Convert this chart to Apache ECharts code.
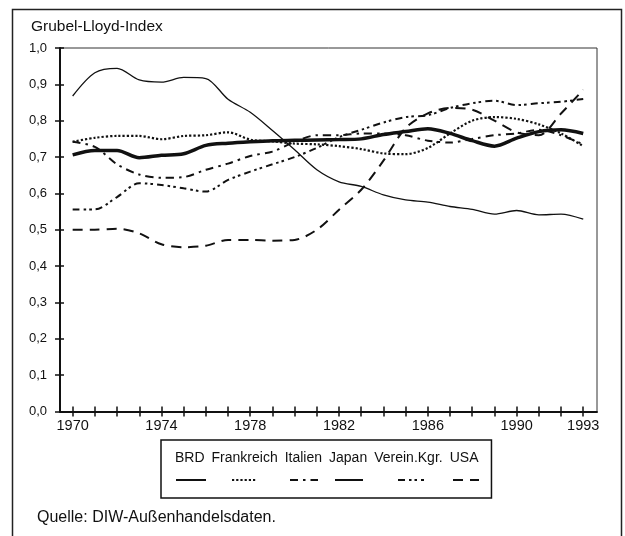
<!DOCTYPE html>
<html>
<head>
<meta charset="utf-8">
<script src="https://cdn.jsdelivr.net/npm/echarts@6/dist/echarts.min.js"></script>
<style>
    html, body { margin: 0; padding: 0; background: #fff; }
    #chart { width: 625px; height: 536px; }
</style>
</head>
<body>
<div id="chart"></div>
<script>
// Jahre
const years = [1970, 1971, 1972, 1973, 1974, 1975, 1976, 1977, 1978, 1979, 1980, 1981,
               1982, 1983, 1984, 1985, 1986, 1987, 1988, 1989, 1990, 1991, 1992, 1993];
const labelYears = [1970, 1974, 1978, 1982, 1986, 1990, 1993];

const brd        = [0.706, 0.718, 0.718, 0.698, 0.705, 0.709, 0.732, 0.738, 0.742, 0.745, 0.746, 0.747,
                    0.748, 0.750, 0.762, 0.770, 0.778, 0.765, 0.745, 0.730, 0.752, 0.770, 0.775, 0.765];
const frankreich = [0.742, 0.753, 0.758, 0.758, 0.749, 0.758, 0.760, 0.768, 0.748, 0.743, 0.737, 0.735,
                    0.730, 0.722, 0.710, 0.708, 0.725, 0.765, 0.800, 0.810, 0.805, 0.790, 0.765, 0.730];
const italien    = [0.742, 0.728, 0.680, 0.652, 0.643, 0.645, 0.665, 0.682, 0.703, 0.715, 0.742, 0.760,
                    0.760, 0.765, 0.765, 0.760, 0.745, 0.740, 0.750, 0.760, 0.765, 0.775, 0.760, 0.735];
const japan      = [0.868, 0.932, 0.944, 0.912, 0.906, 0.919, 0.916, 0.859, 0.823, 0.773, 0.720, 0.665,
                    0.632, 0.619, 0.596, 0.582, 0.576, 0.564, 0.556, 0.543, 0.553, 0.541, 0.543, 0.529];
const vereinKgr  = [0.556, 0.556, 0.590, 0.628, 0.623, 0.614, 0.605, 0.637, 0.660, 0.680, 0.700, 0.725,
                    0.755, 0.775, 0.795, 0.810, 0.815, 0.835, 0.848, 0.855, 0.843, 0.848, 0.852, 0.860];
const usa        = [0.500, 0.500, 0.503, 0.490, 0.460, 0.452, 0.456, 0.472, 0.472, 0.470, 0.472, 0.500,
                    0.555, 0.610, 0.690, 0.780, 0.820, 0.835, 0.830, 0.800, 0.768, 0.760, 0.820, 0.885];

const names = ['BRD', 'Frankreich', 'Italien', 'Japan', 'Verein.Kgr.', 'USA'];
const values = [brd, frankreich, italien, japan, vereinKgr, usa];
const lineStyles = [
    {width: 3.5, type: 'solid'},
    {width: 2.2, type: [2.2, 2]},
    {width: 2, type: [8, 5, 2.5, 5]},
    {width: 1.3, type: 'solid'},
    {width: 2, type: [7, 4, 2.5, 3, 2.5, 4]},
    {width: 2, type: [10, 7]}
];
// Legendensymbole: Mitte und Breite
const iconCenters = [190, 243, 303, 348, 410, 465];
const iconWidths = [30, 24, 28, 28, 26, 26];

let chart = echarts.init(document.getElementById('chart'));

let series = names.map((name, i) => ({
    name: name,
    type: 'line',
    symbol: 'none',
    smooth: 0.3,
    silent: true,
    color: '#111',
    lineStyle: Object.assign({color: '#111', cap: 'butt'}, lineStyles[i]),
    data: years.map((y, j) => [y, values[i][j]])
}));

let legends = [{
    data: names,
    icon: 'none',
    itemWidth: 0,
    itemHeight: 14,
    itemGap: 2,
    selectedMode: false,
    left: 161,
    top: 440,
    padding: [11, 13, 33, 9],
    borderColor: '#111',
    borderWidth: 1.5,
    textStyle: {fontFamily: 'Liberation Sans', fontSize: 14, color: '#111'}
}];
names.forEach((name, i) => {
    legends.push({
        data: [name],
        itemWidth: iconWidths[i],
        itemHeight: 6,
        selectedMode: false,
        left: iconCenters[i] - iconWidths[i] / 2,
        top: 477,
        padding: 0,
        itemStyle: {opacity: 0},
        formatter: () => '',
        textStyle: {fontSize: 1}
    });
});

let axisFont = {fontFamily: 'Liberation Sans', color: '#111'};

let option = {
    animation: false,
    backgroundColor: '#fff',
    title: [{
        text: 'Grubel-Lloyd-Index',
        left: 31,
        top: 19,
        padding: 0,
        textStyle: {fontFamily: 'Liberation Sans', fontSize: 15.5, fontWeight: 'normal', color: '#111'}
    }, {
        text: 'Quelle: DIW-Außenhandelsdaten.',
        left: 37,
        top: 510,
        padding: 0,
        textStyle: {fontFamily: 'Liberation Sans', fontSize: 16, fontWeight: 'normal', color: '#111'}
    }],
    graphic: [{
        type: 'rect',
        shape: {x: 12.5, y: 9.5, width: 609, height: 540},
        style: {fill: 'none', stroke: '#222', lineWidth: 1.5},
        silent: true,
        z: -1
    }],
    legend: legends,
    grid: {
        left: 60, top: 48, right: 28, bottom: 124.5,
        show: true, borderColor: '#333', borderWidth: 1
    },
    xAxis: [{
        type: 'value',
        min: 1969.43,
        max: 1993.62,
        splitLine: {show: false},
        axisLine: {lineStyle: {color: '#111', width: 2}},
        axisTick: {customValues: years, length: 5, lineStyle: {color: '#111', width: 1.5}},
        axisLabel: Object.assign({
            customValues: labelYears,
            fontSize: 14.5,
            margin: 7,
            formatter: v => String(v)
        }, axisFont)
    }, {
        type: 'value',
        position: 'bottom',
        min: 1969.43,
        max: 1993.62,
        splitLine: {show: false},
        axisLine: {show: false},
        axisTick: {customValues: years, inside: true, length: 5, lineStyle: {color: '#111', width: 1.5}},
        axisLabel: {show: false}
    }],
    yAxis: [{
        type: 'value',
        min: 0,
        max: 1,
        interval: 0.1,
        splitLine: {show: false},
        axisLine: {show: true, lineStyle: {color: '#111', width: 2}},
        axisTick: {show: true, length: 5, lineStyle: {color: '#111', width: 1.5}},
        axisLabel: Object.assign({
            fontSize: 13,
            margin: 13,
            formatter: v => v.toFixed(1).replace('.', ',')
        }, axisFont)
    }, {
        type: 'value',
        position: 'left',
        min: 0,
        max: 1,
        interval: 0.1,
        splitLine: {show: false},
        axisLine: {show: false},
        axisTick: {show: true, inside: true, length: 4, lineStyle: {color: '#111', width: 1.5}},
        axisLabel: {show: false}
    }],
    series: series
};
chart.setOption(option);
</script>
</body>
</html>
